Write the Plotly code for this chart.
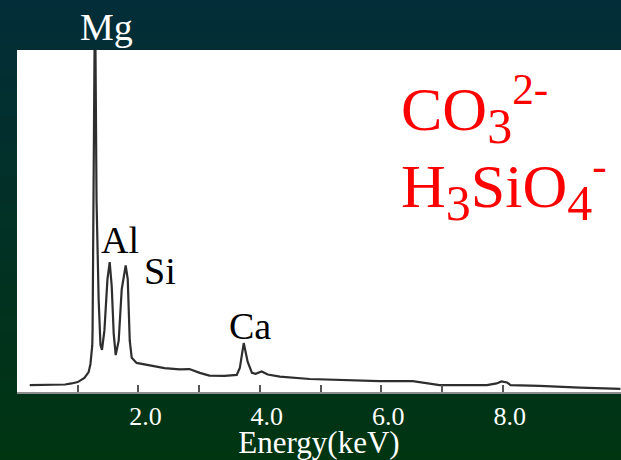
import base64
import struct
import zlib

import numpy as np
import plotly.graph_objects as go

# EDS spectrum: energy (keV) and counts (arbitrary units, Mg peak runs off scale)
energy = [0.21, 0.54, 0.79, 0.90, 1.00, 1.11, 1.18, 1.21, 1.24, 1.245, 1.263, 1.285,
          1.31, 1.345, 1.375, 1.40, 1.44, 1.49, 1.527, 1.56, 1.593, 1.626, 1.675,
          1.725, 1.79, 1.824, 1.857, 1.89, 1.97, 2.18, 2.43, 2.68, 2.84, 3.01, 3.17,
          3.42, 3.62, 3.67, 3.735, 3.80, 3.87, 3.93, 4.03, 4.13, 4.33, 4.82, 5.48,
          5.97, 6.52, 6.72, 6.96, 7.74, 7.90, 7.98, 8.07, 8.13, 8.61, 9.27, 9.94]
counts = [2.0, 2.0, 2.2, 2.5, 2.9, 4.1, 5.8, 8.2, 13.7, 18, 56, 120,
          56, 27, 13.7, 12.3, 18, 33, 38, 31, 17, 10.8, 15,
          30, 37, 33, 15, 10, 8.5, 7.9, 7.0, 6.6, 6.7, 5.6, 4.8,
          4.7, 5.0, 7.0, 14.3, 8.8, 5.6, 5.3, 6.0, 5.1, 4.5, 3.8, 3.5,
          3.2, 3.2, 2.6, 2.0, 2.0, 2.5, 3.1, 2.8, 2.0, 1.8, 1.3, 0.9]

# element labels: text, energy position, height
peak_labels = ["Al", "Si", "Ca"]
peak_label_x = [1.69, 2.35, 3.83]
peak_label_y = [44.4, 35.4, 19.3]

tick_values = [1, 2, 3, 4, 5, 6, 7, 8]
tick_text = ["", "2.0", "", "4.0", "", "6.0", "", "8.0"]

W, H = 621, 460
ML, MR, MT, MB = 17, 0, 50, 68
PW, PH = W - ML - MR, H - MT - MB
SERIF = "Liberation Serif, Times New Roman, serif"


def gradient_png(top, bottom, rows):
    """Build a 1-pixel-wide vertical gradient PNG and return it as a data URI."""
    t = np.linspace(0, 1, rows)[:, None]
    cols = np.round(np.array(top) * (1 - t) + np.array(bottom) * t).astype(np.uint8)
    raw = b"".join(b"\x00" + bytes(row) for row in cols)

    def chunk(tag, data):
        body = tag + data
        return struct.pack(">I", len(data)) + body + struct.pack(">I", zlib.crc32(body) & 0xFFFFFFFF)

    png = (b"\x89PNG\r\n\x1a\n"
           + chunk(b"IHDR", struct.pack(">IIBBBBB", 1, rows, 8, 2, 0, 0, 0))
           + chunk(b"IDAT", zlib.compress(raw))
           + chunk(b"IEND", b""))
    return "data:image/png;base64," + base64.b64encode(png).decode()


fig = go.Figure()
fig.add_trace(go.Scatter(x=energy, y=counts, mode="lines",
                         line=dict(color="#2e2e2e", width=2.2),
                         hoverinfo="skip"))

# page background: teal at the top fading into dark green
fig.add_layout_image(dict(
    source=gradient_png((3, 45, 56), (0, 53, 18), 230),
    xref="paper", yref="paper",
    x=-ML / PW, y=(PH + MT) / PH,
    sizex=W / PW, sizey=H / PH,
    xanchor="left", yanchor="top",
    sizing="stretch", layer="below"))

# white panel behind the spectrum
fig.add_shape(type="rect", xref="paper", yref="paper", x0=0, x1=1, y0=0, y1=1,
              fillcolor="white", line_width=0, layer="below")

# Mg label sits above the plot frame
fig.add_annotation(text="Mg", xref="x", yref="paper", x=1.48, y=1.134,
                   showarrow=False, font=dict(family=SERIF, size=38, color="white"))

for name, lx, ly in zip(peak_labels, peak_label_x, peak_label_y):
    fig.add_annotation(text=name, x=lx, y=ly, showarrow=False,
                       font=dict(family=SERIF, size=38, color="black"))

red_font = dict(family=SERIF, size=62, color="#ff0000")
sub = '<sub><span style="font-size:50px">{}</span></sub>'
fig.add_annotation(text="CO" + sub.format("3") + "<sup>2-</sup>", x=6.287, y=82.5,
                   xanchor="left", yanchor="middle", showarrow=False, font=red_font)
fig.add_annotation(text="H" + sub.format("3") + "SiO" + sub.format("4") + "<sup>-</sup>",
                   x=6.287, y=60.0,
                   xanchor="left", yanchor="middle", showarrow=False, font=red_font)

fig.update_layout(
    width=W, height=H,
    margin=dict(l=ML, r=MR, t=MT, b=MB, pad=0),
    paper_bgcolor="rgba(0,0,0,0)",
    plot_bgcolor="rgba(0,0,0,0)",
    showlegend=False,
)
fig.update_xaxes(
    range=[0, PW / 60.71],
    tickmode="array", tickvals=tick_values, ticktext=tick_text,
    ticks="inside", ticklen=7, tickwidth=1.5, tickcolor="#555555",
    ticklabelshift=7,
    showline=True, linecolor="#8c8c8c", linewidth=2,
    showgrid=False, zeroline=False,
    tickfont=dict(family=SERIF, size=26, color="white"),
    title=dict(text="Energy(keV)", font=dict(family=SERIF, size=31, color="white"),
               standoff=4),
    fixedrange=True,
)
fig.update_yaxes(range=[0, 100], visible=False, fixedrange=True)

fig.write_html("out.html", config={"displayModeBar": False})
